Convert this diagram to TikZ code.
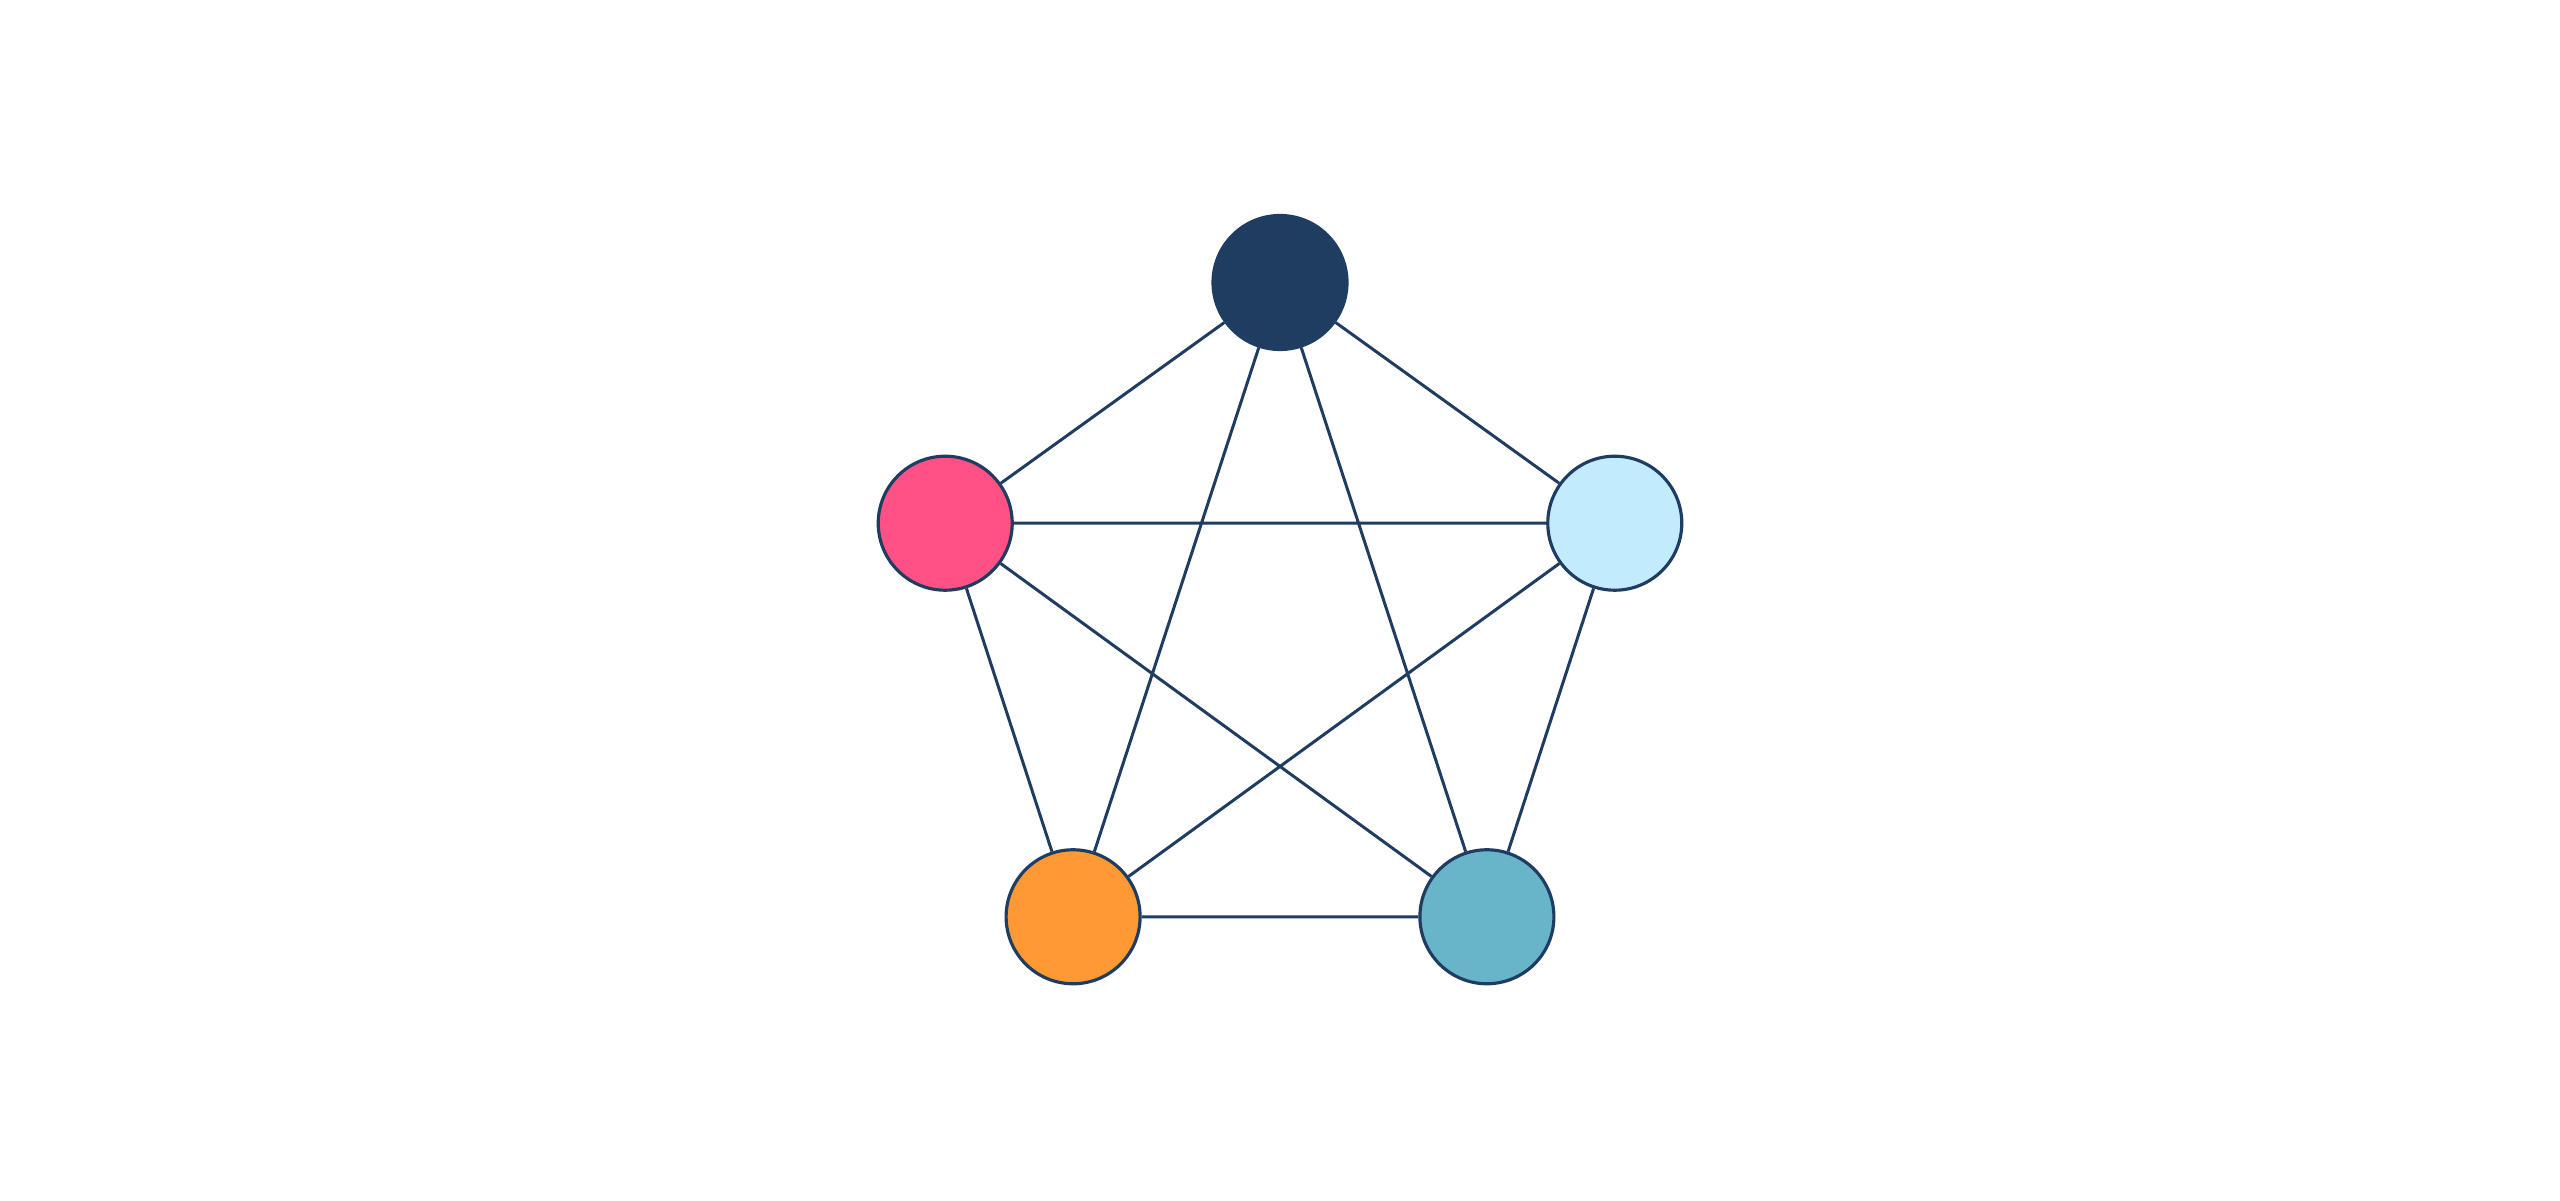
\documentclass[tikz,border=0pt]{standalone}
\usetikzlibrary{calc}
\definecolor{navy}{RGB}{31,61,97}
\definecolor{pinkc}{RGB}{255,81,134}
\definecolor{lblue}{RGB}{195,235,254}
\definecolor{orangec}{RGB}{255,153,51}
\definecolor{tealc}{RGB}{104,181,201}
\tikzset{
  vert/.style={circle, draw=navy, line width=0.9pt, minimum size=1.34cm, inner sep=0pt},
  edge/.style={draw=navy, line width=0.85pt}
}
\begin{document}
\begin{tikzpicture}
\useasboundingbox[fill=white] (0,0) rectangle (25.6,12.01);
\coordinate (c) at (12.8,5.69);
\node[vert, fill=navy] (t) at ($(c)+(90:3.495)$) {};
\node[vert, fill=pinkc] (l) at ($(c)+(162:3.52)$) {};
\node[vert, fill=lblue] (r) at ($(c)+(18:3.52)$) {};
\node[vert, fill=orangec] (bl) at ($(c)+(234:3.52)$) {};
\node[vert, fill=tealc] (br) at ($(c)+(306:3.52)$) {};
\path[edge] (t) -- (l) (t) -- (r) (t) -- (bl) (t) -- (br)
  (l) -- (r) (l) -- (bl) (l) -- (br)
  (r) -- (bl) (r) -- (br) (bl) -- (br);
\end{tikzpicture}
\end{document}
